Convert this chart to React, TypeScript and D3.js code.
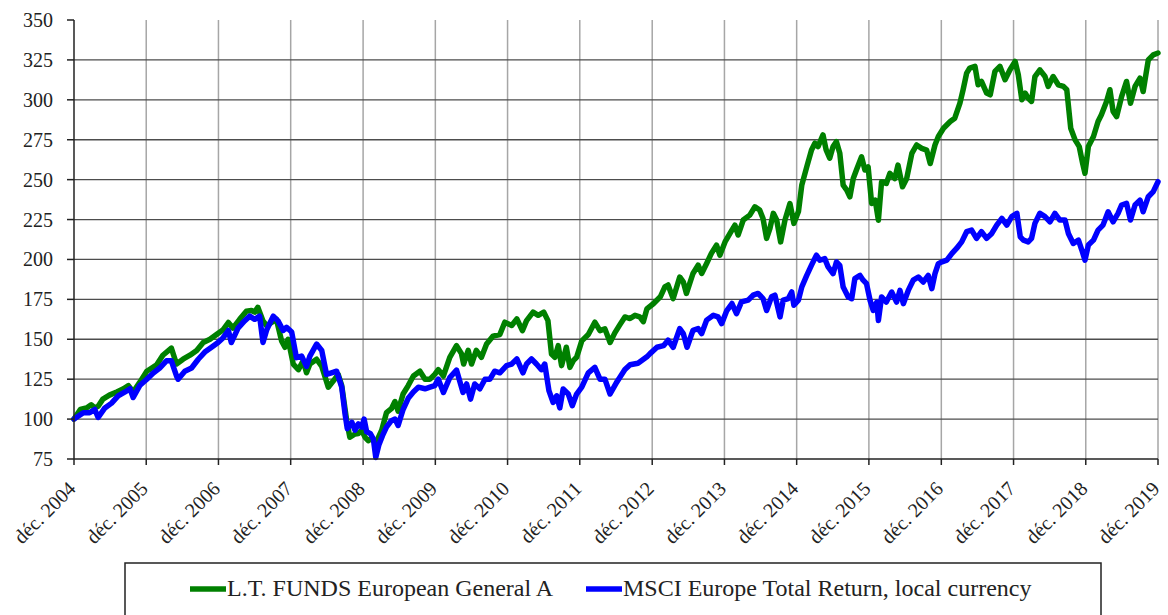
import * as d3 from 'd3';

const fundLabel = 'L.T. FUNDS European General A';
const indexLabel = 'MSCI Europe Total Return, local currency';

// L.T. FUNDS European General A, base 100 at end of Dec 2004
const fundSeries: [string, number][] = [
  ['2004-12-31', 100], ['2005-02-01', 106], ['2005-03-04', 107], ['2005-03-28', 109],
  ['2005-04-15', 107], ['2005-05-02', 108], ['2005-05-26', 112.5], ['2005-06-28', 115],
  ['2005-08-04', 117], ['2005-09-07', 119], ['2005-10-02', 121], ['2005-10-26', 117],
  ['2005-11-28', 123], ['2006-01-03', 130], ['2006-02-22', 134], ['2006-03-25', 140],
  ['2006-05-07', 144.5], ['2006-06-02', 134.5], ['2006-07-05', 137.5], ['2006-08-09', 140],
  ['2006-09-12', 143], ['2006-10-15', 148], ['2006-11-18', 150], ['2006-12-21', 153],
  ['2007-01-24', 156], ['2007-02-19', 160.5], ['2007-03-14', 157], ['2007-04-17', 162.5],
  ['2007-05-21', 167.5], ['2007-06-16', 168], ['2007-07-02', 167], ['2007-07-18', 170],
  ['2007-08-13', 161.5], ['2007-09-01', 158.5], ['2007-09-25', 160.5], ['2007-10-20', 162.5],
  ['2007-11-15', 149], ['2007-12-02', 145], ['2007-12-18', 150], ['2008-01-13', 134.5],
  ['2008-02-08', 131], ['2008-03-03', 136.5], ['2008-03-20', 129], ['2008-04-06', 134.5],
  ['2008-05-10', 137.5], ['2008-06-05', 133], ['2008-07-08', 120], ['2008-08-03', 124],
  ['2008-08-27', 128], ['2008-09-14', 121], ['2008-10-09', 99], ['2008-10-25', 88.6],
  ['2008-11-20', 90.7], ['2008-12-07', 91], ['2008-12-24', 93], ['2009-01-10', 88.6],
  ['2009-01-26', 86.5], ['2009-02-13', 88], ['2009-03-05', 85], ['2009-04-04', 93],
  ['2009-04-28', 104], ['2009-05-23', 106.5], ['2009-06-10', 111], ['2009-06-26', 105],
  ['2009-07-21', 115.7], ['2009-08-16', 121], ['2009-09-11', 127], ['2009-10-14', 130],
  ['2009-11-09', 125], ['2009-12-04', 125], ['2009-12-28', 128], ['2010-01-15', 131],
  ['2010-02-10', 127], ['2010-03-14', 138.7], ['2010-04-17', 146], ['2010-05-12', 141],
  ['2010-05-23', 134.5], ['2010-06-15', 143], ['2010-07-02', 134.5], ['2010-07-26', 143],
  ['2010-08-21', 138.7], ['2010-09-16', 147], ['2010-10-19', 152], ['2010-11-22', 153],
  ['2010-12-17', 160.7], ['2011-01-21', 158.6], ['2011-02-16', 162.8], ['2011-03-16', 155.4],
  ['2011-04-06', 161.7], ['2011-05-09', 167], ['2011-06-04', 165], ['2011-07-02', 167],
  ['2011-07-23', 161.7], ['2011-08-10', 140.8], ['2011-08-27', 138.7], ['2011-09-13', 146],
  ['2011-09-30', 133.5], ['2011-10-24', 145], ['2011-11-11', 132.4], ['2011-11-28', 136.6],
  ['2011-12-15', 138.7], ['2012-01-10', 149], ['2012-02-12', 153], ['2012-03-16', 160.7],
  ['2012-04-11', 155.4], ['2012-05-06', 156.5], ['2012-06-01', 148], ['2012-06-25', 154],
  ['2012-07-20', 159], ['2012-08-15', 164], ['2012-09-10', 163], ['2012-10-05', 165],
  ['2012-10-29', 164], ['2012-11-16', 161], ['2012-12-04', 169], ['2013-01-07', 172.4],
  ['2013-02-10', 176.6], ['2013-03-05', 182.8], ['2013-03-21', 184], ['2013-04-16', 175.5],
  ['2013-05-19', 189], ['2013-06-06', 186], ['2013-06-22', 178.7], ['2013-07-25', 191.2],
  ['2013-08-20', 196.4], ['2013-09-07', 191.2], ['2013-10-02', 197.5], ['2013-10-26', 203.8],
  ['2013-11-21', 209], ['2013-12-08', 202.7], ['2014-01-03', 211], ['2014-01-28', 216.3],
  ['2014-02-22', 221.5], ['2014-03-10', 215.3], ['2014-04-05', 224.7], ['2014-05-08', 227.8],
  ['2014-06-03', 233], ['2014-06-27', 231], ['2014-07-14', 225.7], ['2014-08-01', 213.2],
  ['2014-08-18', 219.5], ['2014-09-04', 228.9], ['2014-09-21', 224.7], ['2014-10-11', 211],
  ['2014-11-02', 224.7], ['2014-11-27', 235], ['2014-12-17', 222.6], ['2015-01-09', 230],
  ['2015-01-26', 246.7], ['2015-02-20', 258], ['2015-03-16', 268.6], ['2015-04-02', 272.8],
  ['2015-04-18', 270.7], ['2015-05-13', 278], ['2015-05-29', 268.6], ['2015-06-16', 263.4],
  ['2015-07-03', 270.7], ['2015-07-20', 273.8], ['2015-08-06', 266.5], ['2015-08-23', 246.5],
  ['2015-09-10', 243.4], ['2015-09-26', 239.2], ['2015-10-13', 250.7], ['2015-10-29', 256],
  ['2015-11-24', 264.3], ['2015-12-11', 256], ['2015-12-27', 258], ['2016-01-14', 235],
  ['2016-02-01', 237.1], ['2016-02-17', 224.6], ['2016-03-04', 248.6], ['2016-03-28', 247.6],
  ['2016-04-15', 253.9], ['2016-05-10', 250.7], ['2016-05-26', 259.1], ['2016-06-18', 245.5],
  ['2016-07-09', 250.7], ['2016-08-04', 266.4], ['2016-08-28', 271.7], ['2016-09-23', 269.6],
  ['2016-10-18', 268.5], ['2016-11-05', 260.1], ['2016-11-29', 271.7], ['2016-12-16', 277],
  ['2017-01-11', 282.2], ['2017-02-14', 286.4], ['2017-03-09', 288.5], ['2017-04-04', 297.9],
  ['2017-04-20', 306.3], ['2017-05-08', 316.7], ['2017-05-24', 319.9], ['2017-06-19', 321],
  ['2017-07-05', 309.4], ['2017-07-22', 311.5], ['2017-08-17', 304.2], ['2017-09-04', 303.1],
  ['2017-09-28', 317.8], ['2017-10-23', 321], ['2017-11-18', 312.6], ['2017-12-13', 318.8],
  ['2018-01-08', 324], ['2018-01-24', 315.7], ['2018-02-11', 300], ['2018-02-28', 304.2],
  ['2018-03-15', 301], ['2018-04-01', 299], ['2018-04-18', 314.6], ['2018-05-13', 318.8],
  ['2018-06-08', 314.6], ['2018-06-24', 308.4], ['2018-07-19', 314.6], ['2018-08-14', 309.4],
  ['2018-09-09', 308.4], ['2018-09-26', 306.3], ['2018-10-16', 282.2], ['2018-11-07', 274.9],
  ['2018-11-28', 270.7], ['2018-12-15', 260.3], ['2018-12-27', 254], ['2019-01-13', 270.7],
  ['2019-02-08', 277], ['2019-03-03', 286.4], ['2019-03-20', 290.6], ['2019-04-15', 299],
  ['2019-05-02', 306.3], ['2019-05-18', 292.7], ['2019-06-05', 289.5], ['2019-06-30', 302],
  ['2019-07-25', 311.5], ['2019-08-14', 297.9], ['2019-09-06', 308.4], ['2019-10-01', 313.6],
  ['2019-10-17', 305.2], ['2019-11-12', 325], ['2019-12-07', 328.2], ['2019-12-31', 329.3],
];

// MSCI Europe Total Return (local currency), base 100 at end of Dec 2004
const indexSeries: [string, number][] = [
  ['2004-12-31', 100], ['2005-02-16', 104], ['2005-03-20', 104], ['2005-04-15', 106],
  ['2005-05-02', 101], ['2005-06-05', 107], ['2005-07-09', 110], ['2005-08-11', 114.5],
  ['2005-09-15', 117], ['2005-10-10', 119], ['2005-10-26', 113.5], ['2005-11-28', 121],
  ['2006-01-03', 125], ['2006-02-06', 129], ['2006-03-09', 132], ['2006-04-12', 136.5],
  ['2006-05-07', 136.5], ['2006-06-02', 127], ['2006-06-10', 125], ['2006-07-14', 130],
  ['2006-08-17', 132], ['2006-09-20', 137.5], ['2006-10-23', 142], ['2006-11-26', 145],
  ['2006-12-29', 148], ['2007-01-24', 151], ['2007-02-19', 155.5], ['2007-03-06', 148],
  ['2007-04-09', 157], ['2007-05-12', 161.5], ['2007-06-07', 164.5], ['2007-07-02', 162.5],
  ['2007-07-27', 164.5], ['2007-08-13', 148], ['2007-09-01', 156], ['2007-10-04', 164.5],
  ['2007-10-28', 161.5], ['2007-11-23', 155.5], ['2007-12-10', 157.5], ['2008-01-05', 154.5],
  ['2008-01-29', 138.5], ['2008-02-24', 139.5], ['2008-03-20', 133], ['2008-04-06', 139.5],
  ['2008-05-10', 147], ['2008-06-05', 143], ['2008-06-29', 128], ['2008-07-24', 129],
  ['2008-08-19', 130], ['2008-09-14', 120], ['2008-10-01', 103], ['2008-10-12', 94],
  ['2008-11-04', 98], ['2008-11-20', 93], ['2008-12-07', 97], ['2008-12-24', 95],
  ['2009-01-05', 100], ['2009-01-18', 92], ['2009-02-05', 91], ['2009-02-21', 87.5],
  ['2009-03-05', 76], ['2009-03-21', 84], ['2009-04-08', 89.6], ['2009-04-28', 95],
  ['2009-05-23', 99], ['2009-06-10', 100], ['2009-06-26', 96], ['2009-07-21', 106],
  ['2009-08-16', 113], ['2009-09-11', 117], ['2009-10-06', 120], ['2009-11-09', 119],
  ['2009-12-04', 120], ['2009-12-28', 121], ['2010-01-15', 125], ['2010-02-10', 116.7],
  ['2010-03-14', 126], ['2010-04-17', 130.7], ['2010-05-20', 116.7], ['2010-06-07', 122],
  ['2010-06-27', 112.5], ['2010-07-18', 122], ['2010-08-13', 119], ['2010-09-08', 125],
  ['2010-10-03', 125], ['2010-10-27', 130], ['2010-11-22', 129], ['2010-12-26', 133.5],
  ['2011-01-21', 134.5], ['2011-02-16', 137.7], ['2011-03-19', 129], ['2011-04-06', 134.5],
  ['2011-05-01', 137.7], ['2011-05-26', 134.5], ['2011-06-20', 131], ['2011-07-07', 134.5],
  ['2011-07-28', 117.8], ['2011-08-18', 110.5], ['2011-09-05', 114.6], ['2011-09-21', 107],
  ['2011-10-08', 118.8], ['2011-11-03', 115.7], ['2011-11-23', 108.4], ['2011-12-15', 115.7],
  ['2012-01-10', 120], ['2012-02-12', 129], ['2012-03-16', 132.4], ['2012-04-11', 125],
  ['2012-05-06', 125], ['2012-06-01', 115.7], ['2012-07-04', 123], ['2012-07-20', 126],
  ['2012-08-15', 131], ['2012-09-10', 134], ['2012-10-20', 135], ['2012-12-04', 139],
  ['2012-12-20', 141], ['2013-01-24', 145], ['2013-02-26', 146], ['2013-03-21', 149.4],
  ['2013-04-16', 145], ['2013-05-19', 156.7], ['2013-06-06', 153.6], ['2013-06-25', 145],
  ['2013-07-25', 155.6], ['2013-08-20', 156.7], ['2013-09-07', 153.6], ['2013-10-02', 162],
  ['2013-11-05', 165], ['2013-11-29', 164], ['2013-12-17', 159.8], ['2014-01-12', 168],
  ['2014-02-07', 172.4], ['2014-03-02', 166], ['2014-03-27', 173.4], ['2014-04-30', 174.5],
  ['2014-05-25', 177.6], ['2014-06-19', 178.7], ['2014-07-14', 175.5], ['2014-08-01', 168],
  ['2014-08-26', 176.6], ['2014-09-12', 177.6], ['2014-10-08', 164], ['2014-10-24', 174.5],
  ['2014-11-19', 175.5], ['2014-12-06', 179.7], ['2014-12-17', 171.3], ['2015-01-09', 174.5],
  ['2015-01-26', 182.8], ['2015-02-20', 190], ['2015-03-16', 196.4], ['2015-04-10', 202.7],
  ['2015-04-27', 199.5], ['2015-05-22', 200.5], ['2015-06-08', 195.3], ['2015-07-03', 191.1],
  ['2015-07-20', 198.4], ['2015-08-06', 196.3], ['2015-08-23', 182.7], ['2015-09-18', 176.4],
  ['2015-10-05', 175.4], ['2015-10-21', 188], ['2015-11-16', 190], ['2015-12-02', 187],
  ['2015-12-19', 184.8], ['2016-01-06', 174.4], ['2016-01-22', 168.1], ['2016-02-09', 173.3],
  ['2016-02-17', 161.8], ['2016-03-04', 176.5], ['2016-03-28', 173.3], ['2016-04-24', 179.6],
  ['2016-05-19', 173.3], ['2016-06-05', 180.6], ['2016-06-22', 172.3], ['2016-07-17', 180.6],
  ['2016-08-11', 187], ['2016-09-06', 189], ['2016-10-01', 185.9], ['2016-10-26', 190],
  ['2016-11-13', 181.7], ['2016-11-29', 191.1], ['2016-12-16', 197.4], ['2017-01-03', 198.5],
  ['2017-01-28', 199.6], ['2017-02-23', 203.8], ['2017-03-18', 206.9], ['2017-04-13', 211],
  ['2017-05-08', 217.4], ['2017-06-02', 218.4], ['2017-06-27', 213.2], ['2017-07-22', 217.4],
  ['2017-08-17', 213.2], ['2017-09-12', 216.3], ['2017-10-07', 221.5], ['2017-11-02', 225.7],
  ['2017-11-27', 221.5], ['2017-12-22', 226.8], ['2018-01-17', 228.9], ['2018-02-03', 214.2],
  ['2018-02-19', 212.1], ['2018-03-15', 211], ['2018-04-01', 213.2], ['2018-04-18', 222.6],
  ['2018-05-13', 228.9], ['2018-06-08', 226.8], ['2018-07-03', 223.6], ['2018-07-28', 228.9],
  ['2018-08-22', 224.7], ['2018-09-17', 224.7], ['2018-10-04', 216.3], ['2018-10-29', 210],
  ['2018-11-24', 212.1], ['2018-12-11', 205.9], ['2018-12-27', 199.6], ['2019-01-13', 209],
  ['2019-02-08', 212.1], ['2019-03-03', 218.4], ['2019-03-28', 221.5], ['2019-04-23', 229.9],
  ['2019-05-18', 223.6], ['2019-06-12', 228.9], ['2019-06-30', 234.1], ['2019-07-25', 235.1],
  ['2019-08-14', 224.7], ['2019-09-06', 234.1], ['2019-10-01', 237.2], ['2019-10-17', 229.9],
  ['2019-11-12', 239.3], ['2019-12-07', 242.5], ['2019-12-31', 248.7],
];

const yTicks = [75, 100, 125, 150, 175, 200, 225, 250, 275, 300, 325, 350];
const xTickDates = [
  '2004-12-31', '2005-12-31', '2006-12-31', '2007-12-31', '2008-12-31', '2009-12-31',
  '2010-12-31', '2011-12-31', '2012-12-31', '2013-12-31', '2014-12-31', '2015-12-31',
  '2016-12-31', '2017-12-31', '2018-12-31', '2019-12-31',
];
const xTickLabels = [
  'déc. 2004', 'déc. 2005', 'déc. 2006', 'déc. 2007', 'déc. 2008', 'déc. 2009',
  'déc. 2010', 'déc. 2011', 'déc. 2012', 'déc. 2013', 'déc. 2014', 'déc. 2015',
  'déc. 2016', 'déc. 2017', 'déc. 2018', 'déc. 2019',
];

const W = 1168;
const H = 615;
const left = 74;
const right = 1158;
const top = 20;
const bottom = 459;
const font = '"Liberation Serif", "Times New Roman", serif';

export default function App() {
  const parse = d3.utcParse('%Y-%m-%d');
  const x = d3.scaleUtc()
    .domain([parse(xTickDates[0])!, parse(xTickDates[xTickDates.length - 1])!])
    .range([left, right]);
  const y = d3.scaleLinear().domain([75, 350]).range([bottom, top]);

  const line = d3.line<[string, number]>()
    .x(d => x(parse(d[0])!))
    .y(d => y(d[1]));

  return (
    <div style={{ position: 'absolute', left: 0, top: 0 }}>
      <svg width={W} height={H} style={{ display: 'block', background: '#fff' }}>
        {/* vertical grid */}
        {xTickDates.slice(1).map(d => (
          <line key={d} x1={x(parse(d)!)} x2={x(parse(d)!)} y1={top} y2={bottom}
            stroke="#a6a6a6" strokeWidth={1.5} />
        ))}
        {/* horizontal grid */}
        {yTicks.slice(1, -1).map(v => (
          <line key={v} x1={left} x2={right} y1={y(v)} y2={y(v)}
            stroke="#4d4d4d" strokeWidth={1.3} />
        ))}

        <path d={line(fundSeries) ?? ''} fill="none" stroke="#008000" strokeWidth={5.5}
          strokeLinejoin="round" strokeLinecap="round" />
        <path d={line(indexSeries) ?? ''} fill="none" stroke="#0000ff" strokeWidth={5.5}
          strokeLinejoin="round" strokeLinecap="round" />

        {/* axes */}
        <line x1={left} x2={left} y1={top} y2={bottom} stroke="#222" strokeWidth={1.5} />
        <line x1={left} x2={right} y1={bottom} y2={bottom} stroke="#222" strokeWidth={1.5} />
        {yTicks.map(v => (
          <g key={v}>
            <line x1={left - 7} x2={left} y1={y(v)} y2={y(v)} stroke="#222" strokeWidth={1.5} />
            <text x={53} y={y(v)} dy="0.35em" textAnchor="end" fontFamily={font}
              fontSize={20} fill="#222">{v}</text>
          </g>
        ))}
        {xTickDates.map((d, i) => {
          const tx = x(parse(d)!);
          return (
            <g key={d}>
              <line x1={tx} x2={tx} y1={bottom} y2={bottom + 6} stroke="#222" strokeWidth={1.5} />
              <text transform={`translate(${tx - 2},${bottom + 26}) rotate(-45)`} textAnchor="end"
                dy="0.35em" fontFamily={font} fontSize={20} fill="#222">{xTickLabels[i]}</text>
            </g>
          );
        })}

        {/* legend */}
        <rect x={125} y={563} width={976} height={70} fill="none" stroke="#222" strokeWidth={1.5} />
        <line x1={190} x2={226} y1={589} y2={589} stroke="#008000" strokeWidth={5.5} />
        <text x={227} y={596} fontFamily={font} fontSize={24} fill="#222">{fundLabel}</text>
        <line x1={586} x2={622} y1={589} y2={589} stroke="#0000ff" strokeWidth={5.5} />
        <text x={623} y={596} fontFamily={font} fontSize={24} fill="#222">{indexLabel}</text>
      </svg>
    </div>
  );
}
